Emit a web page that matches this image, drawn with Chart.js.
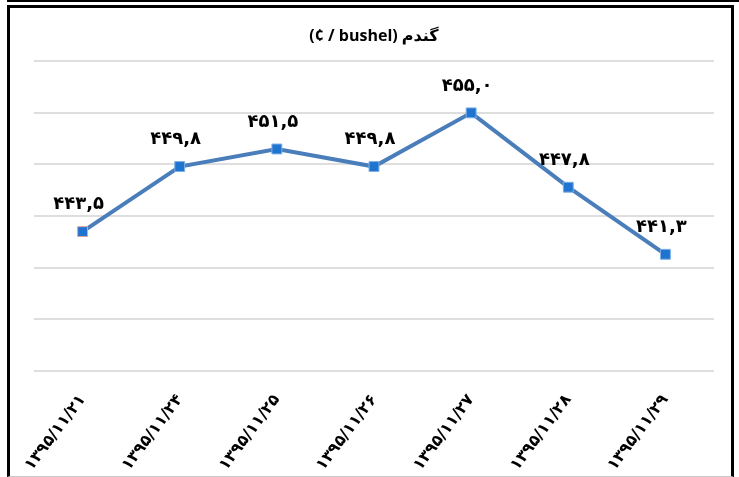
<!DOCTYPE html>
<html>
<head>
<meta charset="utf-8">
<script src="https://cdn.jsdelivr.net/npm/chart.js@4.4.1/dist/chart.umd.min.js"></script>
<style>
  html, body { margin: 0; padding: 0; background: #fff; width: 739px; height: 477px; overflow: hidden; }
  #topRule { position: absolute; left: 7px; top: 0; width: 732px; height: 2px; background: #000; }
  #frame {
    position: absolute; left: 7px; top: 5px;
    width: 721px; height: 468px;
    border-top: 3px solid #000; border-left: 3px solid #000; border-right: 3px solid #000;
    border-bottom: 1px solid #c8c8c8;
  }
  canvas { display: block; }
</style>
</head>
<body>
<div id="topRule"></div>
<div id="frame"><canvas id="wheat" width="721" height="468"></canvas></div>
<script>
// Wheat price per bushel (cents), daily closes.
const dates = ["۱۳۹۵/۱۱/۲۱", "۱۳۹۵/۱۱/۲۴", "۱۳۹۵/۱۱/۲۵", "۱۳۹۵/۱۱/۲۶", "۱۳۹۵/۱۱/۲۷", "۱۳۹۵/۱۱/۲۸", "۱۳۹۵/۱۱/۲۹"];
const prices = [443.5, 449.8, 451.5, 449.8, 455.0, 447.8, 441.3];
const priceLabels = ["۴۴۳,۵", "۴۴۹,۸", "۴۵۱,۵", "۴۴۹,۸", "۴۵۵,۰", "۴۴۷,۸", "۴۴۱,۳"];
const yMin = 430;
const yMax = 460;
const yStep = 5;

const LINE = "#4a7ebb";
const MARKER = "#1f74cf";
const GRID = "#dedede";
const FONT = "'Open Sans', 'DejaVu Sans', sans-serif";

// Persian value labels above each marker.
const valueLabels = {
  id: "valueLabels",
  afterDatasetsDraw(chart) {
    const { ctx } = chart;
    const meta = chart.getDatasetMeta(0);
    ctx.save();
    ctx.font = "bold 18px 'DejaVu Sans', sans-serif";
    ctx.fillStyle = "#000";
    ctx.textAlign = "center";
    ctx.textBaseline = "middle";
    meta.data.forEach((pt, i) => {
      ctx.fillText(priceLabels[i], pt.x - 4, pt.y - 27);
    });
    ctx.restore();
  }
};

new Chart(document.getElementById("wheat"), {
  type: "line",
  data: {
    labels: dates,
    datasets: [{
      data: prices,
      borderColor: LINE,
      borderWidth: 4,
      pointStyle: "rect",
      pointRadius: 7,
      pointBackgroundColor: MARKER,
      pointBorderColor: prices.map((_, i) => (i === 0 ? "#e2a2a0" : "#7fb0e6")),
      pointBorderWidth: 1,
      tension: 0
    }]
  },
  options: {
    responsive: false,
    animation: false,
    devicePixelRatio: 1,
    layout: { padding: { top: 12, left: 24, right: 17, bottom: 0 } },
    plugins: {
      legend: { display: false },
      tooltip: { enabled: false },
      title: {
        display: true,
        text: "(¢ / bushel) گندم",
        color: "#000",
        font: { family: FONT, size: 16, weight: "bold" },
        padding: { top: 7, bottom: 15 }
      }
    },
    scales: {
      x: {
        offset: true,
        grid: { display: false },
        border: { display: false },
        ticks: {
          color: "#000",
          font: { family: "'DejaVu Sans', sans-serif", size: 16, weight: "bold" },
          minRotation: 53,
          maxRotation: 53,
          autoSkip: false,
          padding: 12
        },
        afterFit: (scale) => { scale.height = 105; }
      },
      y: {
        min: yMin,
        max: yMax,
        ticks: { display: false, stepSize: yStep },
        grid: { color: GRID, lineWidth: 2, drawTicks: false },
        border: { display: false },
        afterFit: (scale) => { scale.width = 0; }
      }
    }
  },
  plugins: [valueLabels]
});
</script>
</body>
</html>
